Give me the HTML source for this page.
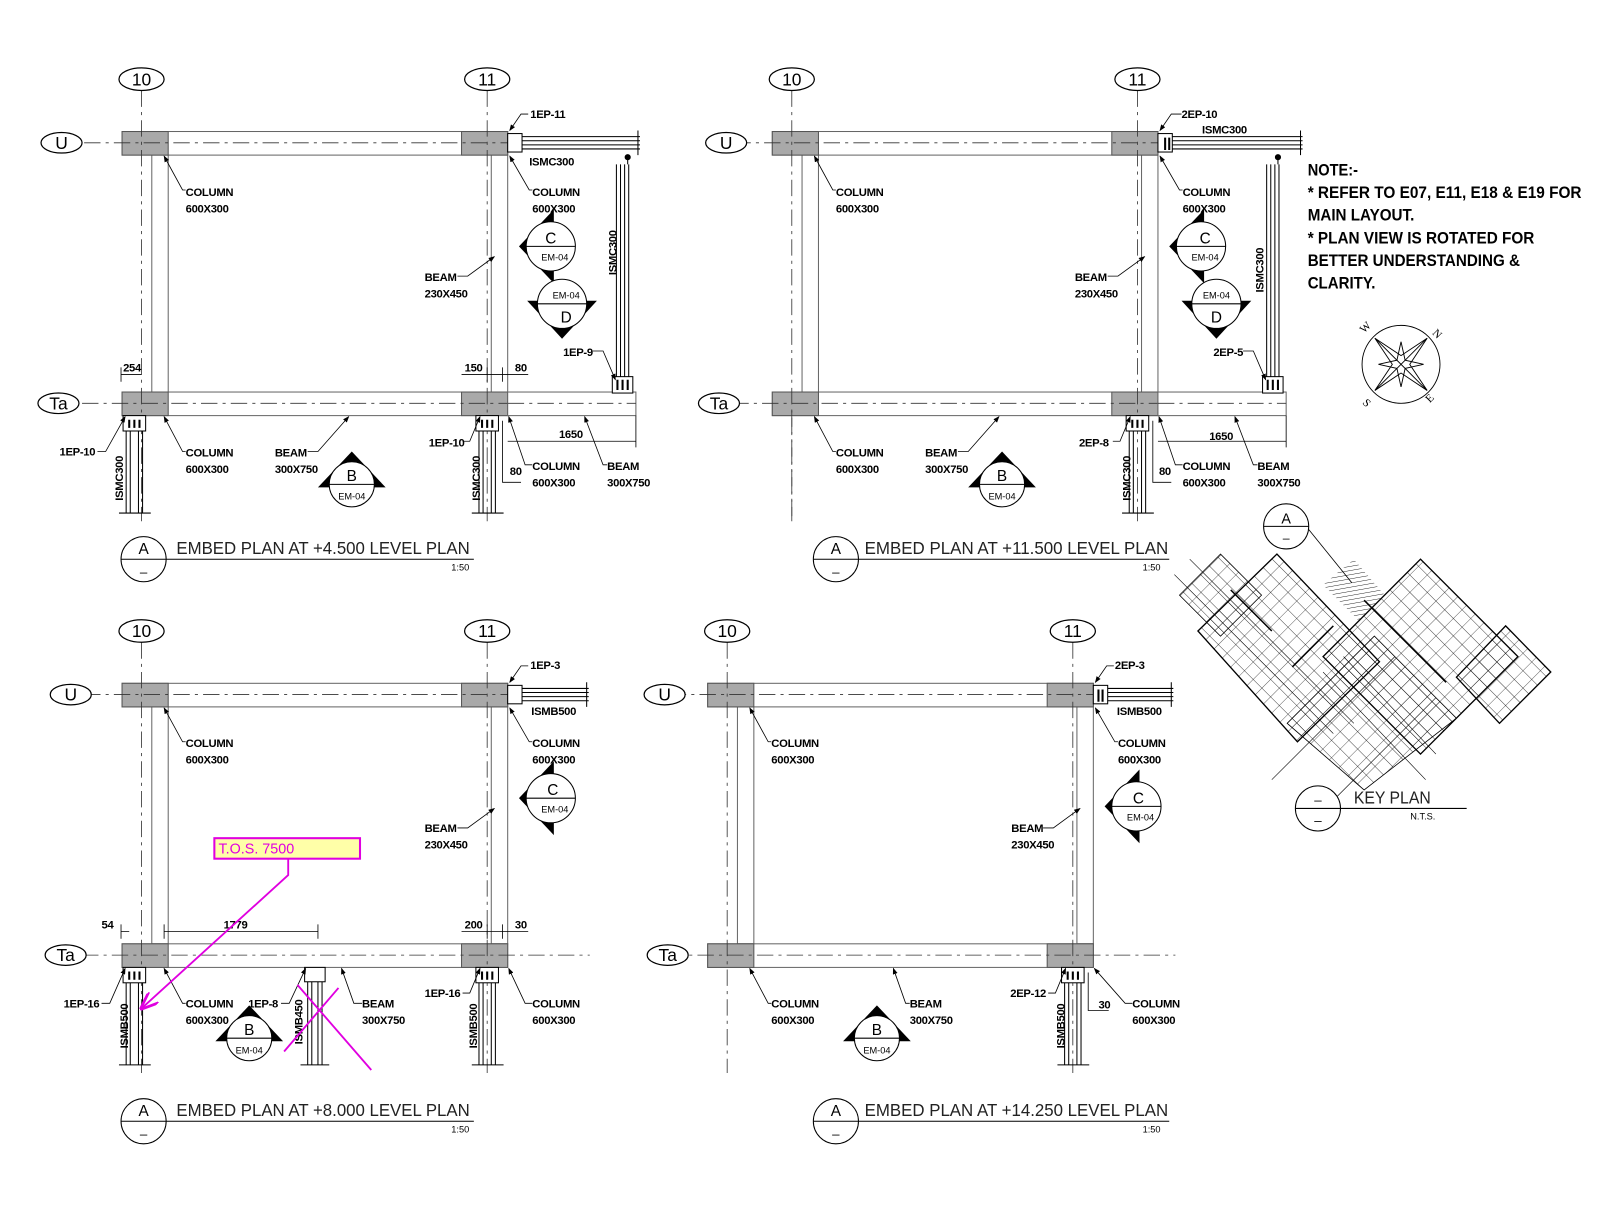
<!DOCTYPE html>
<html><head><meta charset="utf-8"><style>
html,body{margin:0;padding:0;background:#fff}
svg{display:block}
.t{font-family:"Liberation Sans Narrow","Liberation Sans",sans-serif;font-weight:bold;font-size:11px;letter-spacing:-0.3px;fill:#000}
.g{font-family:"Liberation Sans",sans-serif;font-size:17px;fill:#000}
.s{font-family:"Liberation Sans",sans-serif;font-size:9px;fill:#000}
.ti{font-family:"Liberation Sans Narrow","Liberation Sans",sans-serif;font-size:17px;fill:#222}
.n{font-family:"Liberation Sans Narrow","Liberation Sans",sans-serif;font-weight:bold;font-size:16px;fill:#000}
</style></head><body>
<svg width="1600" height="1222" viewBox="0 0 1560 1191" xmlns="http://www.w3.org/2000/svg">
<defs>
<pattern id="kp" width="12" height="12" patternUnits="userSpaceOnUse" patternTransform="rotate(45)">
<path d="M0 0H12M0 0V12" stroke="#000" stroke-width="0.6" fill="none"/>
</pattern>
<pattern id="hz" width="4" height="4" patternUnits="userSpaceOnUse" patternTransform="rotate(80)">
<path d="M0 0V4" stroke="#000" stroke-width="0.8"/>
</pattern>
<marker id="ar" markerWidth="8" markerHeight="6" refX="7" refY="3" orient="auto"><path d="M0 0L8 3L0 6z" fill="#000"/></marker>
<marker id="am" markerWidth="10" markerHeight="8" refX="9" refY="4" orient="auto"><path d="M0 0L10 4L0 8" fill="none" stroke="#e000e0" stroke-width="1.5"/></marker>
<g id="fr">
<g fill="#fff" stroke="#666" stroke-width="1">
<rect x="119" y="128" width="376" height="23"/>
<rect x="148" y="151" width="16" height="231"/>
<rect x="479" y="151" width="16" height="231"/>
<rect x="119" y="382" width="376" height="23"/>
</g>
<g fill="#a9a9a9" stroke="#555">
<rect x="119" y="128" width="45" height="23"/><rect x="450" y="128" width="45" height="23"/>
<rect x="119" y="382" width="45" height="23"/><rect x="450" y="382" width="45" height="23"/>
</g>
<g stroke="#333" stroke-width="0.8" stroke-dasharray="16 5 3 5" fill="none">
<line x1="138" y1="88" x2="138" y2="508"/><line x1="475" y1="88" x2="475" y2="508"/>
<line x1="82" y1="139" x2="495" y2="139"/><line x1="80" y1="393" x2="575" y2="393"/>
</g>
<g fill="#fff" stroke="#000" stroke-width="1.2">
<ellipse cx="138" cy="77" rx="22" ry="11"/><ellipse cx="475" cy="77" rx="22" ry="11"/>
</g>
<g stroke="#000" stroke-width="1" fill="#fff">
<rect x="464" y="405" width="22" height="15"/>
<path d="M467 420V500M471 420V500M479 420V500M483 420V500M460 500H491" fill="none"/>
<path d="M470 409v8M475 409v8M480 409v8" stroke-width="2" fill="none"/>
</g>
</g>
<g id="lch" stroke="#000" stroke-width="1" fill="#fff">
<rect x="120" y="405" width="22" height="15"/>
<path d="M123 420V500M127 420V500M135 420V500M139 420V500M116 500H147" fill="none"/>
<path d="M126 409v8M131 409v8M136 409v8" stroke-width="2" fill="none"/>
</g>
<g id="rch" stroke="#000" stroke-width="1" fill="#fff">
<rect x="495" y="382" width="125" height="23" stroke="#666"/>
<line x1="495" y1="393" x2="620" y2="393" stroke="#333" stroke-width="0.8" stroke-dasharray="16 5 3 5"/>
<path d="M601 160V368M605 160V368M609 160V368M613 160V368" fill="none"/>
<rect x="597" y="367" width="20" height="16"/>
<path d="M602 370v10M607 370v10M612 370v10" stroke-width="2"/>
<circle cx="612" cy="153" r="2.5" fill="#000"/>
<path d="M612 153V160" fill="none"/>
</g>
</defs>

<!-- ===== TOP LEFT ===== -->
<use href="#fr"/><use href="#lch"/><use href="#rch"/>
<g stroke="#000" fill="#fff">
<rect x="495" y="130" width="14" height="18"/>
<path d="M509 133H624M509 137H624M509 141H624M509 145H624M622 127V151" fill="none"/>
<ellipse cx="60" cy="139" rx="20" ry="10" stroke-width="1.2"/><ellipse cx="57" cy="393" rx="20" ry="10" stroke-width="1.2"/>
</g>
<text class="g" x="138" y="83" text-anchor="middle">10</text><text class="g" x="475" y="83" text-anchor="middle">11</text>
<text class="g" x="60" y="145" text-anchor="middle">U</text><text class="g" x="57" y="399" text-anchor="middle">Ta</text>
<g stroke="#000" fill="none" stroke-width="0.8">
<path d="M515 111H508L497 127" marker-end="url(#ar)"/>
<path d="M181 185H178L160 152" marker-end="url(#ar)"/>
<path d="M519 185H516L497 152" marker-end="url(#ar)"/>
<path d="M446 269H456L482 250" marker-end="url(#ar)"/>
<path d="M578 342H588L600 370" marker-end="url(#ar)"/>
<path d="M95 440H103L122 406" marker-end="url(#ar)"/>
<path d="M181 440H178L160 406" marker-end="url(#ar)"/>
<path d="M300 440H310L340 406" marker-end="url(#ar)"/>
<path d="M451 430H458L468 406" marker-end="url(#ar)"/>
<path d="M519 453H512L496 406" marker-end="url(#ar)"/>
<path d="M592 453H588L570 406" marker-end="url(#ar)"/>
<path d="M118 365H138M118 358V372M450 365H515M475 358V372M490 358V372M495 430H620M620 405V436M490 410V470H508"/>
</g>
<text class="t" x="517" y="115">1EP-11</text>
<text class="t" x="516" y="161">ISMC300</text>
<text class="t" x="181" y="191">COLUMN</text><text class="t" x="181" y="207">600X300</text>
<text class="t" x="519" y="191">COLUMN</text><text class="t" x="519" y="207">600X300</text>
<text class="t" x="414" y="274">BEAM</text><text class="t" x="414" y="290">230X450</text>
<text class="t" transform="translate(601,268) rotate(-90)">ISMC300</text>
<text class="t" x="549" y="347">1EP-9</text>
<text class="t" x="120" y="362">254</text><text class="t" x="453" y="362">150</text><text class="t" x="502" y="362">80</text>
<text class="t" x="58" y="444">1EP-10</text>
<text class="t" x="181" y="445">COLUMN</text><text class="t" x="181" y="461">600X300</text>
<text class="t" x="268" y="445">BEAM</text><text class="t" x="268" y="461">300X750</text>
<text class="t" x="418" y="435">1EP-10</text>
<text class="t" x="519" y="458">COLUMN</text><text class="t" x="519" y="474">600X300</text>
<text class="t" x="592" y="458">BEAM</text><text class="t" x="592" y="474">300X750</text>
<text class="t" x="545" y="427">1650</text><text class="t" x="497" y="463">80</text>
<text class="t" transform="translate(120,488) rotate(-90)">ISMC300</text>
<text class="t" transform="translate(468,488) rotate(-90)">ISMC300</text>
<!-- markers -->
<polygon points="506,240 540,204 540,276"/><circle cx="537" cy="240" r="24" fill="#fff" stroke="#000"/><line x1="513" y1="240" x2="561" y2="240" stroke="#000"/>
<text class="g" x="537" y="237" text-anchor="middle" style="font-size:15px">C</text><text class="s" x="541" y="254" text-anchor="middle">EM-04</text>
<polygon points="514,293 582,293 548,330"/><circle cx="548" cy="296" r="24" fill="#fff" stroke="#000"/><line x1="524" y1="296" x2="572" y2="296" stroke="#000"/>
<text class="s" x="552" y="291" text-anchor="middle">EM-04</text><text class="g" x="552" y="314" text-anchor="middle" style="font-size:15px">D</text>
<polygon points="310,475 376,475 343,440"/><circle cx="343" cy="472" r="22" fill="#fff" stroke="#000"/><line x1="321" y1="472" x2="365" y2="472" stroke="#000"/>
<text class="g" x="343" y="469" text-anchor="middle" style="font-size:15px">B</text><text class="s" x="343" y="487" text-anchor="middle">EM-04</text>
<!-- title -->
<circle cx="140" cy="545" r="22" fill="none" stroke="#000"/><line x1="118" y1="545" x2="462" y2="545" stroke="#000"/>
<text class="g" x="140" y="540" text-anchor="middle" style="font-size:15px">A</text><text class="g" x="140" y="562" text-anchor="middle" style="font-size:13px">–</text>
<text class="ti" x="172" y="540" textLength="286" lengthAdjust="spacingAndGlyphs">EMBED PLAN AT +4.500 LEVEL PLAN</text><text class="s" x="440" y="556">1:50</text>

<!-- ===== TOP RIGHT ===== -->
<g transform="translate(634,0)"><use href="#fr"/><use href="#rch"/>
<g stroke="#000" fill="#fff">
<rect x="495" y="130" width="14" height="18"/>
<path d="M502 134v12M506 134v12" stroke-width="2"/>
<path d="M509 133H636M509 137H636M509 141H636M509 145H636M634 127V151" fill="none"/>
<ellipse cx="74" cy="139" rx="20" ry="10" stroke-width="1.2"/><ellipse cx="67" cy="393" rx="20" ry="10" stroke-width="1.2"/>
</g>
<text class="g" x="138" y="83" text-anchor="middle">10</text><text class="g" x="475" y="83" text-anchor="middle">11</text>
<text class="g" x="74" y="145" text-anchor="middle">U</text><text class="g" x="67" y="399" text-anchor="middle">Ta</text>
<g stroke="#000" fill="none" stroke-width="0.8">
<path d="M518 111H508L497 127" marker-end="url(#ar)"/>
<path d="M181 185H178L160 152" marker-end="url(#ar)"/>
<path d="M519 185H516L497 152" marker-end="url(#ar)"/>
<path d="M446 269H456L482 250" marker-end="url(#ar)"/>
<path d="M578 342H588L600 370" marker-end="url(#ar)"/>
<path d="M181 440H178L160 406" marker-end="url(#ar)"/>
<path d="M300 440H310L340 406" marker-end="url(#ar)"/>
<path d="M451 430H458L468 406" marker-end="url(#ar)"/>
<path d="M519 453H512L496 406" marker-end="url(#ar)"/>
<path d="M592 453H588L570 406" marker-end="url(#ar)"/>
<path d="M495 430H620M620 405V436M490 410V470H508"/>
</g>
<polygon points="506,240 540,204 540,276"/><circle cx="537" cy="240" r="24" fill="#fff" stroke="#000"/><line x1="513" y1="240" x2="561" y2="240" stroke="#000"/>
<text class="g" x="541" y="237" text-anchor="middle" style="font-size:15px">C</text><text class="s" x="541" y="254" text-anchor="middle">EM-04</text>
<polygon points="518,293 586,293 552,330"/><circle cx="552" cy="296" r="24" fill="#fff" stroke="#000"/><line x1="528" y1="296" x2="576" y2="296" stroke="#000"/>
<text class="s" x="552" y="291" text-anchor="middle">EM-04</text><text class="g" x="552" y="314" text-anchor="middle" style="font-size:15px">D</text>
<polygon points="310,475 376,475 343,440"/><circle cx="343" cy="472" r="22" fill="#fff" stroke="#000"/><line x1="321" y1="472" x2="365" y2="472" stroke="#000"/>
<text class="g" x="343" y="469" text-anchor="middle" style="font-size:15px">B</text><text class="s" x="343" y="487" text-anchor="middle">EM-04</text>
<line x1="138" y1="400" x2="138" y2="508" stroke="#333" stroke-width="0.8" stroke-dasharray="16 5 3 5"/>
</g>
<text class="t" x="1152" y="115">2EP-10</text>
<text class="t" x="1172" y="130">ISMC300</text>
<text class="t" x="815" y="191">COLUMN</text><text class="t" x="815" y="207">600X300</text>
<text class="t" x="1153" y="191">COLUMN</text><text class="t" x="1153" y="207">600X300</text>
<text class="t" x="1048" y="274">BEAM</text><text class="t" x="1048" y="290">230X450</text>
<text class="t" transform="translate(1232,285) rotate(-90)">ISMC300</text>
<text class="t" x="1183" y="347">2EP-5</text>
<text class="t" x="815" y="445">COLUMN</text><text class="t" x="815" y="461">600X300</text>
<text class="t" x="902" y="445">BEAM</text><text class="t" x="902" y="461">300X750</text>
<text class="t" x="1052" y="435">2EP-8</text>
<text class="t" x="1153" y="458">COLUMN</text><text class="t" x="1153" y="474">600X300</text>
<text class="t" x="1226" y="458">BEAM</text><text class="t" x="1226" y="474">300X750</text>
<text class="t" x="1179" y="429">1650</text><text class="t" x="1130" y="463">80</text>
<text class="t" transform="translate(1102,488) rotate(-90)">ISMC300</text>
<circle cx="815" cy="545" r="22" fill="none" stroke="#000"/><line x1="793" y1="545" x2="1140" y2="545" stroke="#000"/>
<text class="g" x="815" y="540" text-anchor="middle" style="font-size:15px">A</text><text class="g" x="815" y="562" text-anchor="middle" style="font-size:13px">–</text>
<text class="ti" x="843" y="540" textLength="296" lengthAdjust="spacingAndGlyphs">EMBED PLAN AT +11.500 LEVEL PLAN</text><text class="s" x="1114" y="556">1:50</text>

<!-- ===== BOTTOM LEFT ===== -->
<g transform="translate(0,538)"><use href="#fr"/><use href="#lch"/>
<g stroke="#000" fill="#fff">
<rect x="495" y="130" width="14" height="18"/>
<path d="M509 133H574M509 137H574M509 141H574M509 145H574M572 127V151" fill="none"/>
<ellipse cx="69" cy="139" rx="20" ry="10" stroke-width="1.2"/><ellipse cx="64" cy="393" rx="20" ry="10" stroke-width="1.2"/>
<rect x="297" y="405" width="20" height="14"/>
<path d="M300 419V500M304 419V500M310 419V500M314 419V500M293 500H321" fill="none"/>
</g>
<text class="g" x="138" y="83" text-anchor="middle">10</text><text class="g" x="475" y="83" text-anchor="middle">11</text>
<text class="g" x="69" y="145" text-anchor="middle">U</text><text class="g" x="64" y="399" text-anchor="middle">Ta</text>
<g stroke="#000" fill="none" stroke-width="0.8">
<path d="M515 111H508L497 127" marker-end="url(#ar)"/>
<path d="M181 185H178L160 152" marker-end="url(#ar)"/>
<path d="M519 185H516L497 152" marker-end="url(#ar)"/>
<path d="M446 269H456L482 250" marker-end="url(#ar)"/>
<path d="M99 440H107L122 406" marker-end="url(#ar)"/>
<path d="M181 440H178L160 406" marker-end="url(#ar)"/>
<path d="M274 440H282L298 406" marker-end="url(#ar)"/>
<path d="M353 440H345L333 406" marker-end="url(#ar)"/>
<path d="M451 430H458L468 406" marker-end="url(#ar)"/>
<path d="M519 440H512L496 406" marker-end="url(#ar)"/>
<path d="M118 370H126M118 363V377M160 370H310M160 363V377M310 363V377M450 370H515M475 363V377M490 363V377"/>
</g>
<polygon points="506,240 540,204 540,276"/><circle cx="537" cy="240" r="24" fill="#fff" stroke="#000"/><line x1="513" y1="240" x2="561" y2="240" stroke="#000"/>
<text class="g" x="539" y="237" text-anchor="middle" style="font-size:15px">C</text><text class="s" x="541" y="254" text-anchor="middle">EM-04</text>
<polygon points="210,477 276,477 243,442"/><circle cx="243" cy="474" r="22" fill="#fff" stroke="#000"/><line x1="221" y1="474" x2="265" y2="474" stroke="#000"/>
<text class="g" x="243" y="471" text-anchor="middle" style="font-size:15px">B</text><text class="s" x="243" y="489" text-anchor="middle">EM-04</text>
</g>
<text class="t" x="517" y="652">1EP-3</text>
<text class="t" x="518" y="697">ISMB500</text>
<text class="t" x="181" y="728">COLUMN</text><text class="t" x="181" y="744">600X300</text>
<text class="t" x="519" y="728">COLUMN</text><text class="t" x="519" y="744">600X300</text>
<text class="t" x="414" y="811">BEAM</text><text class="t" x="414" y="827">230X450</text>
<text class="t" x="99" y="905">54</text><text class="t" x="218" y="905">1779</text><text class="t" x="453" y="905">200</text><text class="t" x="502" y="905">30</text>
<text class="t" x="62" y="982">1EP-16</text>
<text class="t" x="181" y="982">COLUMN</text><text class="t" x="181" y="998">600X300</text>
<text class="t" x="242" y="982">1EP-8</text>
<text class="t" x="353" y="982">BEAM</text><text class="t" x="353" y="998">300X750</text>
<text class="t" x="414" y="972">1EP-16</text>
<text class="t" x="519" y="982">COLUMN</text><text class="t" x="519" y="998">600X300</text>
<text class="t" transform="translate(125,1022) rotate(-90)">ISMB500</text>
<text class="t" transform="translate(295,1018) rotate(-90)">ISMB450</text>
<text class="t" transform="translate(465,1022) rotate(-90)">ISMB500</text>
<rect x="209" y="817" width="142" height="20" fill="#ffffa8" stroke="#e000e0" stroke-width="2"/>
<text x="213" y="832" style="font-family:'Liberation Sans',sans-serif;font-size:14px;fill:#e000e0">T.O.S. 7500</text>
<g stroke="#e000e0" stroke-width="1.8" fill="none">
<path d="M281 837V853L138 983" marker-end="url(#am)"/>
<path d="M277 1025L330 963M290 960L362 1043"/>
</g>
<circle cx="140" cy="1093" r="22" fill="none" stroke="#000"/><line x1="118" y1="1093" x2="462" y2="1093" stroke="#000"/>
<text class="g" x="140" y="1088" text-anchor="middle" style="font-size:15px">A</text><text class="g" x="140" y="1110" text-anchor="middle" style="font-size:13px">–</text>
<text class="ti" x="172" y="1088" textLength="286" lengthAdjust="spacingAndGlyphs">EMBED PLAN AT +8.000 LEVEL PLAN</text><text class="s" x="440" y="1104">1:50</text>

<!-- ===== BOTTOM RIGHT ===== -->
<g transform="translate(571,538)"><use href="#fr"/>
<g stroke="#000" fill="#fff">
<rect x="495" y="130" width="14" height="18"/>
<path d="M500 134v12M504 134v12" stroke-width="2"/>
<path d="M509 133H573M509 137H573M509 141H573M509 145H573M571 127V151" fill="none"/>
<ellipse cx="77" cy="139" rx="20" ry="10" stroke-width="1.2"/><ellipse cx="80" cy="393" rx="20" ry="10" stroke-width="1.2"/>
</g>
<text class="g" x="138" y="83" text-anchor="middle">10</text><text class="g" x="475" y="83" text-anchor="middle">11</text>
<text class="g" x="77" y="145" text-anchor="middle">U</text><text class="g" x="80" y="399" text-anchor="middle">Ta</text>
<g stroke="#000" fill="none" stroke-width="0.8">
<path d="M515 111H508L497 127" marker-end="url(#ar)"/>
<path d="M181 185H178L160 152" marker-end="url(#ar)"/>
<path d="M519 185H516L497 152" marker-end="url(#ar)"/>
<path d="M446 269H456L482 250" marker-end="url(#ar)"/>
<path d="M181 440H178L160 406" marker-end="url(#ar)"/>
<path d="M316 440H312L300 406" marker-end="url(#ar)"/>
<path d="M451 430H458L468 406" marker-end="url(#ar)"/>
<path d="M533 440H526L496 406" marker-end="url(#ar)"/>
<path d="M490 410V447H510"/>
</g>
<polygon points="506,248 540,212 540,284"/><circle cx="537" cy="248" r="24" fill="#fff" stroke="#000"/><line x1="513" y1="248" x2="561" y2="248" stroke="#000"/>
<text class="g" x="539" y="245" text-anchor="middle" style="font-size:15px">C</text><text class="s" x="541" y="262" text-anchor="middle">EM-04</text>
<polygon points="251,477 317,477 284,442"/><circle cx="284" cy="474" r="22" fill="#fff" stroke="#000"/><line x1="262" y1="474" x2="306" y2="474" stroke="#000"/>
<text class="g" x="284" y="471" text-anchor="middle" style="font-size:15px">B</text><text class="s" x="284" y="489" text-anchor="middle">EM-04</text>
</g>
<text class="t" x="1087" y="652">2EP-3</text>
<text class="t" x="1089" y="697">ISMB500</text>
<text class="t" x="752" y="728">COLUMN</text><text class="t" x="752" y="744">600X300</text>
<text class="t" x="1090" y="728">COLUMN</text><text class="t" x="1090" y="744">600X300</text>
<text class="t" x="986" y="811">BEAM</text><text class="t" x="986" y="827">230X450</text>
<text class="t" x="752" y="982">COLUMN</text><text class="t" x="752" y="998">600X300</text>
<text class="t" x="887" y="982">BEAM</text><text class="t" x="887" y="998">300X750</text>
<text class="t" x="985" y="972">2EP-12</text><text class="t" x="1071" y="983">30</text>
<text class="t" x="1104" y="982">COLUMN</text><text class="t" x="1104" y="998">600X300</text>
<text class="t" transform="translate(1038,1022) rotate(-90)">ISMB500</text>
<circle cx="815" cy="1093" r="22" fill="none" stroke="#000"/><line x1="793" y1="1093" x2="1140" y2="1093" stroke="#000"/>
<text class="g" x="815" y="1088" text-anchor="middle" style="font-size:15px">A</text><text class="g" x="815" y="1110" text-anchor="middle" style="font-size:13px">–</text>
<text class="ti" x="843" y="1088" textLength="296" lengthAdjust="spacingAndGlyphs">EMBED PLAN AT +14.250 LEVEL PLAN</text><text class="s" x="1114" y="1104">1:50</text>

<!-- ===== NOTES ===== -->
<text class="n" x="1275" y="171" textLength="49" lengthAdjust="spacingAndGlyphs">NOTE:-</text>
<text class="n" x="1275" y="193" textLength="267" lengthAdjust="spacingAndGlyphs">* REFER TO E07, E11, E18 &amp; E19 FOR</text>
<text class="n" x="1275" y="215" textLength="104" lengthAdjust="spacingAndGlyphs">MAIN LAYOUT.</text>
<text class="n" x="1275" y="237" textLength="221" lengthAdjust="spacingAndGlyphs">* PLAN VIEW IS ROTATED FOR</text>
<text class="n" x="1275" y="259" textLength="207" lengthAdjust="spacingAndGlyphs">BETTER UNDERSTANDING &amp;</text>
<text class="n" x="1275" y="281" textLength="66" lengthAdjust="spacingAndGlyphs">CLARITY.</text>

<!-- compass -->
<g stroke="#000" fill="none" stroke-width="0.9">
<circle cx="1366" cy="355" r="38"/>
<polygon points="1366,319 1372,349 1402,355 1372,361 1366,391 1360,361 1330,355 1360,349" transform="rotate(45 1366 355)"/>
<path d="M1366 319V391M1330 355H1402" transform="rotate(45 1366 355)"/>
<polygon points="1366,333 1370,351 1388,355 1370,359 1366,377 1362,359 1344,355 1362,351"/>
</g>
<g style="font-family:'Liberation Serif',serif;font-size:11px">
<text x="1330" y="325" transform="rotate(-45 1330 325)">W</text>
<text x="1396" y="325" transform="rotate(45 1396 325)">N</text>
<text x="1394" y="393" transform="rotate(-45 1394 393)">E</text>
<text x="1328" y="393" transform="rotate(45 1328 393)">S</text>
</g>

<!-- ===== KEY PLAN ===== -->
<g stroke="#000" stroke-width="1.3">
<polygon points="1168,615 1245,540 1345,645 1265,723" fill="url(#kp)"/>
<polygon points="1290,640 1385,545 1480,640 1385,735" fill="url(#kp)"/>
<polygon points="1420,660 1468,610 1512,655 1462,705" fill="url(#kp)"/>
<polygon points="1255,705 1340,620 1420,700 1330,770" fill="url(#kp)" stroke-width="0.8"/>
<polygon points="1150,580 1190,540 1230,580 1190,620" fill="url(#kp)" stroke-width="0.8"/>
<polygon points="1290,570 1320,545 1350,580 1325,605" fill="url(#hz)" stroke="none"/>
<path d="M1200 575L1240 615M1330 585L1410 665M1300 610L1260 650" fill="none" stroke-width="1.5"/>
</g>
<g stroke="#000" stroke-width="0.6" fill="none">
<path d="M1145 560L1300 715M1160 545L1320 705M1290 655L1390 760M1310 640L1400 735M1240 760L1360 640M1300 780L1400 680"/>
</g>
<circle cx="1254" cy="513" r="22" fill="#fff" stroke="#000"/><line x1="1232" y1="513" x2="1276" y2="513" stroke="#000"/>
<line x1="1276" y1="516" x2="1318" y2="568" stroke="#000" stroke-width="0.8"/>
<text class="g" x="1254" y="510" text-anchor="middle" style="font-size:14px">A</text><text class="g" x="1254" y="528" text-anchor="middle" style="font-size:12px">–</text>
<circle cx="1285" cy="788" r="22" fill="#fff" stroke="#000"/><line x1="1263" y1="788" x2="1430" y2="788" stroke="#000"/>
<text class="g" x="1285" y="784" text-anchor="middle" style="font-size:13px">–</text><text class="g" x="1285" y="804" text-anchor="middle" style="font-size:13px">–</text>
<text class="ti" x="1320" y="783" textLength="75" lengthAdjust="spacingAndGlyphs">KEY PLAN</text><text class="s" x="1375" y="799">N.T.S.</text>
</svg>
</body></html>
